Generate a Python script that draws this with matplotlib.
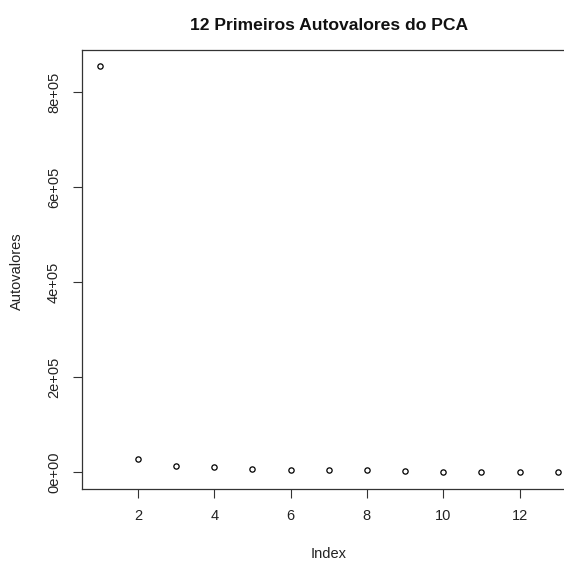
import matplotlib
matplotlib.use("Agg")
import matplotlib.pyplot as plt
import numpy as np

plt.rcParams['font.family'] = ['Liberation Sans', 'DejaVu Sans']

index = [1, 2, 3, 4, 5, 6, 7, 8, 9, 10, 11, 12, 13]
autovalores = [854700, 28000, 12600, 10500, 7600, 4800, 4800, 4800, 2100, 400, 300, 200, 100]
x_ticks = [2, 4, 6, 8, 10, 12]
y_ticks = [0, 200000, 400000, 600000, 800000]
y_tick_labels = ["0e+00", "2e+05", "4e+05", "6e+05", "8e+05"]

W, H = 564, 562
fig = plt.figure(figsize=(W / 100, H / 100), dpi=100)
left, right, top, bottom = 81.5, 576.0, 50.0, 488.5
ax = fig.add_axes([left / W, (H - bottom) / H, (right - left) / W, (bottom - top) / H])

ax.plot(index, autovalores, linestyle='none', marker='o', markersize=3.8,
        markerfacecolor='none', markeredgecolor='black', markeredgewidth=0.9)

xr = max(index) - min(index)
ax.set_xlim(min(index) - 0.04 * xr, max(index) + 0.04 * xr)
yr = max(autovalores) - 0
ax.set_ylim(0 - 0.04 * yr, max(autovalores) + 0.04 * yr)

ax.set_xticks(x_ticks)
ax.set_xticklabels([str(t) for t in x_ticks])
ax.set_yticks(y_ticks)
ax.set_yticklabels(y_tick_labels, rotation=90, va='center')

ax.tick_params(axis='both', direction='out', length=6.8, width=0.8, color='#333333',
               labelsize=10.5, labelcolor='#222222')
ax.tick_params(axis='x', pad=8)
ax.tick_params(axis='y', pad=8)
for s in ax.spines.values():
    s.set_linewidth(0.9)
    s.set_color('#333333')

fig.text((left + right) / 2 / W, 1 - 30.5 / H, "12 Primeiros Autovalores do PCA",
         ha='center', va='baseline', fontsize=12.6, fontweight='bold', color='#111111')
fig.text((left + right) / 2 / W, 1 - 558 / H, "Index", ha='center', va='baseline',
         fontsize=10.5, color='#222222')
fig.text(17 / W, 1 - 271 / H, "Autovalores", ha='center', va='center', rotation=90,
         fontsize=10.5, color='#222222')

fig.savefig("out.png", dpi=100)
